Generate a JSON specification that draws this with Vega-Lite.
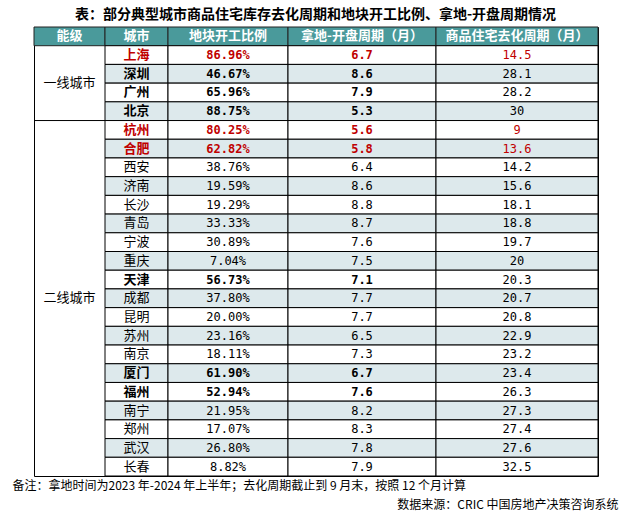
{
  "$schema": "https://vega.github.io/schema/vega-lite/v6.json",
  "background": "white",
  "padding": {"left": 12, "top": 8, "right": 5, "bottom": 5},
  "bounds": "flush",
  "spacing": 0,
  "title": {"text": "表：部分典型城市商品住宅库存去化周期和地块开工比例、拿地-开盘周期情况", "fontSize": 14, "fontWeight": "bold", "font": "Noto Sans CJK SC", "anchor": "middle", "offset": 4, "color": "#000000"},
  "datasets": {
    "headers": [
      {"row": 0, "col": "能级"},
      {"row": 0, "col": "城市"},
      {"row": 0, "col": "地块开工比例"},
      {"row": 0, "col": "拿地-开盘周期（月）"},
      {"row": 0, "col": "商品住宅去化周期（月）"}
    ],
    "cities": [
      {"row": 1, "tier": "一线城市", "city": "上海", "ratio": "86.96%", "period": "6.7", "destock": "14.5", "emphasis": "key"},
      {"row": 2, "tier": "一线城市", "city": "深圳", "ratio": "46.67%", "period": "8.6", "destock": "28.1", "emphasis": "notable"},
      {"row": 3, "tier": "一线城市", "city": "广州", "ratio": "65.96%", "period": "7.9", "destock": "28.2", "emphasis": "notable"},
      {"row": 4, "tier": "一线城市", "city": "北京", "ratio": "88.75%", "period": "5.3", "destock": "30", "emphasis": "notable"},
      {"row": 5, "tier": "二线城市", "city": "杭州", "ratio": "80.25%", "period": "5.6", "destock": "9", "emphasis": "key"},
      {"row": 6, "tier": "二线城市", "city": "合肥", "ratio": "62.82%", "period": "5.8", "destock": "13.6", "emphasis": "key"},
      {"row": 7, "tier": "二线城市", "city": "西安", "ratio": "38.76%", "period": "6.4", "destock": "14.2", "emphasis": "regular"},
      {"row": 8, "tier": "二线城市", "city": "济南", "ratio": "19.59%", "period": "8.6", "destock": "15.6", "emphasis": "regular"},
      {"row": 9, "tier": "二线城市", "city": "长沙", "ratio": "19.29%", "period": "8.8", "destock": "18.1", "emphasis": "regular"},
      {"row": 10, "tier": "二线城市", "city": "青岛", "ratio": "33.33%", "period": "8.7", "destock": "18.8", "emphasis": "regular"},
      {"row": 11, "tier": "二线城市", "city": "宁波", "ratio": "30.89%", "period": "7.6", "destock": "19.7", "emphasis": "regular"},
      {"row": 12, "tier": "二线城市", "city": "重庆", "ratio": "7.04%", "period": "7.5", "destock": "20", "emphasis": "regular"},
      {"row": 13, "tier": "二线城市", "city": "天津", "ratio": "56.73%", "period": "7.1", "destock": "20.3", "emphasis": "notable"},
      {"row": 14, "tier": "二线城市", "city": "成都", "ratio": "37.80%", "period": "7.7", "destock": "20.7", "emphasis": "regular"},
      {"row": 15, "tier": "二线城市", "city": "昆明", "ratio": "20.00%", "period": "7.7", "destock": "20.8", "emphasis": "regular"},
      {"row": 16, "tier": "二线城市", "city": "苏州", "ratio": "23.16%", "period": "6.5", "destock": "22.9", "emphasis": "regular"},
      {"row": 17, "tier": "二线城市", "city": "南京", "ratio": "18.11%", "period": "7.3", "destock": "23.2", "emphasis": "regular"},
      {"row": 18, "tier": "二线城市", "city": "厦门", "ratio": "61.90%", "period": "6.7", "destock": "23.4", "emphasis": "notable"},
      {"row": 19, "tier": "二线城市", "city": "福州", "ratio": "52.94%", "period": "7.6", "destock": "26.3", "emphasis": "notable"},
      {"row": 20, "tier": "二线城市", "city": "南宁", "ratio": "21.95%", "period": "8.2", "destock": "27.3", "emphasis": "regular"},
      {"row": 21, "tier": "二线城市", "city": "郑州", "ratio": "17.07%", "period": "8.3", "destock": "27.4", "emphasis": "regular"},
      {"row": 22, "tier": "二线城市", "city": "武汉", "ratio": "26.80%", "period": "7.8", "destock": "27.6", "emphasis": "regular"},
      {"row": 23, "tier": "二线城市", "city": "长春", "ratio": "8.82%", "period": "7.9", "destock": "32.5", "emphasis": "regular"}
    ]
  },
  "hconcat": [
    {
      "width": 71, "height": 449,
      "title": {"text": "备注：拿地时间为2023 年-2024 年上半年；去化周期截止到 9 月末，按照 12 个月计算", "orient": "bottom", "anchor": "start", "dx": -21, "offset": 5, "fontSize": 12, "fontWeight": "normal", "font": "Noto Sans CJK SC", "color": "#000000"},
      "resolve": {"scale": {"y": "independent"}},
      "layer": [
        {"data": {"name": "headers"}, "transform": [{"filter": "datum.col == '能级'"}], "mark": {"type": "rect", "fill": "#4a9a9b", "stroke": "#222222", "strokeWidth": 1},
         "encoding": {"y": {"field": "row", "type": "ordinal", "scale": {"domain": [0,1,2,3,4,5,6,7,8,9,10,11,12,13,14,15,16,17,18,19,20,21,22,23], "paddingInner": 0, "paddingOuter": 0}, "axis": null}}},
        {"data": {"name": "headers"}, "transform": [{"filter": "datum.col == '能级'"}], "mark": {"type": "text", "color": "#ffffff", "fontWeight": "bold", "fontSize": 13, "font": "Noto Sans CJK SC"},
         "encoding": {"y": {"field": "row", "type": "ordinal", "scale": {"domain": [0,1,2,3,4,5,6,7,8,9,10,11,12,13,14,15,16,17,18,19,20,21,22,23], "paddingInner": 0, "paddingOuter": 0}, "axis": null}, "text": {"field": "col"}}},
        {"data": {"name": "cities"}, "transform": [{"filter": "datum.tier == '二线城市'"}, {"aggregate": [{"op": "min", "field": "row", "as": "row"}], "groupby": ["tier"]}], "mark": {"type": "rule", "color": "#000000", "strokeWidth": 1},
         "encoding": {"y": {"field": "row", "type": "ordinal", "bandPosition": 0, "scale": {"domain": [0,1,2,3,4,5,6,7,8,9,10,11,12,13,14,15,16,17,18,19,20,21,22,23], "paddingInner": 0, "paddingOuter": 0}, "axis": null}}},
        {"data": {"name": "cities"}, "mark": {"type": "text", "color": "#000000", "fontSize": 13, "font": "Noto Sans CJK SC"},
         "encoding": {"y": {"aggregate": "mean", "field": "row", "type": "quantitative", "scale": {"domain": [-0.5, 23.5], "reverse": true, "nice": false, "zero": false}, "axis": null}, "text": {"field": "tier"}}}
      ]
    },
    {
      "width": 63, "height": 449,
      "layer": [
        {"data": {"name": "headers"}, "transform": [{"filter": "datum.col == '城市'"}], "mark": {"type": "rect", "fill": "#4a9a9b", "stroke": "#222222", "strokeWidth": 1},
         "encoding": {"y": {"field": "row", "type": "ordinal", "scale": {"domain": [0,1,2,3,4,5,6,7,8,9,10,11,12,13,14,15,16,17,18,19,20,21,22,23], "paddingInner": 0, "paddingOuter": 0}, "axis": null}}},
        {"data": {"name": "headers"}, "transform": [{"filter": "datum.col == '城市'"}], "mark": {"type": "text", "color": "#ffffff", "fontWeight": "bold", "fontSize": 13, "font": "Noto Sans CJK SC"},
         "encoding": {"y": {"field": "row", "type": "ordinal", "axis": null}, "text": {"field": "col"}}},
        {"data": {"name": "cities"}, "mark": {"type": "rect", "stroke": "#000000", "strokeWidth": 1},
         "encoding": {"y": {"field": "row", "type": "ordinal", "axis": null}, "fill": {"condition": {"test": "datum.row % 2 == 0", "value": "#dde9ec"}, "value": "#ffffff"}}},
        {"data": {"name": "cities"}, "transform": [{"filter": "datum.emphasis == 'regular'"}], "mark": {"type": "text", "fontSize": 13, "font": "Noto Sans CJK SC", "fontWeight": "normal"},
         "encoding": {"y": {"field": "row", "type": "ordinal", "axis": null}, "text": {"field": "city"}, "color": {"field": "emphasis", "type": "nominal", "scale": {"domain": ["key", "notable", "regular"], "range": ["#c00000", "#000000", "#000000"]}, "legend": null}}},
        {"data": {"name": "cities"}, "transform": [{"filter": "datum.emphasis != 'regular'"}], "mark": {"type": "text", "fontSize": 13, "font": "Noto Sans CJK SC", "fontWeight": "bold"},
         "encoding": {"y": {"field": "row", "type": "ordinal", "axis": null}, "text": {"field": "city"}, "color": {"field": "emphasis", "type": "nominal", "scale": {"domain": ["key", "notable", "regular"], "range": ["#c00000", "#000000", "#000000"]}, "legend": null}}}
      ]
    },
    {
      "width": 120, "height": 449,
      "layer": [
        {"data": {"name": "headers"}, "transform": [{"filter": "datum.col == '地块开工比例'"}], "mark": {"type": "rect", "fill": "#4a9a9b", "stroke": "#222222", "strokeWidth": 1},
         "encoding": {"y": {"field": "row", "type": "ordinal", "scale": {"domain": [0,1,2,3,4,5,6,7,8,9,10,11,12,13,14,15,16,17,18,19,20,21,22,23], "paddingInner": 0, "paddingOuter": 0}, "axis": null}}},
        {"data": {"name": "headers"}, "transform": [{"filter": "datum.col == '地块开工比例'"}], "mark": {"type": "text", "color": "#ffffff", "fontWeight": "bold", "fontSize": 13, "font": "Noto Sans CJK SC"},
         "encoding": {"y": {"field": "row", "type": "ordinal", "axis": null}, "text": {"field": "col"}}},
        {"data": {"name": "cities"}, "mark": {"type": "rect", "stroke": "#000000", "strokeWidth": 1},
         "encoding": {"y": {"field": "row", "type": "ordinal", "axis": null}, "fill": {"condition": {"test": "datum.row % 2 == 0", "value": "#dde9ec"}, "value": "#ffffff"}}},
        {"data": {"name": "cities"}, "transform": [{"filter": "datum.emphasis == 'regular'"}], "mark": {"type": "text", "fontSize": 12, "font": "DejaVu Sans Mono", "fontWeight": "normal"},
         "encoding": {"y": {"field": "row", "type": "ordinal", "axis": null}, "text": {"field": "ratio"}, "color": {"field": "emphasis", "type": "nominal", "scale": {"domain": ["key", "notable", "regular"], "range": ["#c00000", "#000000", "#000000"]}, "legend": null}}},
        {"data": {"name": "cities"}, "transform": [{"filter": "datum.emphasis != 'regular'"}], "mark": {"type": "text", "fontSize": 12, "font": "DejaVu Sans Mono", "fontWeight": "bold"},
         "encoding": {"y": {"field": "row", "type": "ordinal", "axis": null}, "text": {"field": "ratio"}, "color": {"field": "emphasis", "type": "nominal", "scale": {"domain": ["key", "notable", "regular"], "range": ["#c00000", "#000000", "#000000"]}, "legend": null}}}
      ]
    },
    {
      "width": 148, "height": 449,
      "layer": [
        {"data": {"name": "headers"}, "transform": [{"filter": "datum.col == '拿地-开盘周期（月）'"}], "mark": {"type": "rect", "fill": "#4a9a9b", "stroke": "#222222", "strokeWidth": 1},
         "encoding": {"y": {"field": "row", "type": "ordinal", "scale": {"domain": [0,1,2,3,4,5,6,7,8,9,10,11,12,13,14,15,16,17,18,19,20,21,22,23], "paddingInner": 0, "paddingOuter": 0}, "axis": null}}},
        {"data": {"name": "headers"}, "transform": [{"filter": "datum.col == '拿地-开盘周期（月）'"}], "mark": {"type": "text", "color": "#ffffff", "fontWeight": "bold", "fontSize": 13, "font": "Noto Sans CJK SC"},
         "encoding": {"y": {"field": "row", "type": "ordinal", "axis": null}, "text": {"field": "col"}}},
        {"data": {"name": "cities"}, "mark": {"type": "rect", "stroke": "#000000", "strokeWidth": 1},
         "encoding": {"y": {"field": "row", "type": "ordinal", "axis": null}, "fill": {"condition": {"test": "datum.row % 2 == 0", "value": "#dde9ec"}, "value": "#ffffff"}}},
        {"data": {"name": "cities"}, "transform": [{"filter": "datum.emphasis == 'regular'"}], "mark": {"type": "text", "fontSize": 12, "font": "DejaVu Sans Mono", "fontWeight": "normal"},
         "encoding": {"y": {"field": "row", "type": "ordinal", "axis": null}, "text": {"field": "period"}, "color": {"field": "emphasis", "type": "nominal", "scale": {"domain": ["key", "notable", "regular"], "range": ["#c00000", "#000000", "#000000"]}, "legend": null}}},
        {"data": {"name": "cities"}, "transform": [{"filter": "datum.emphasis != 'regular'"}], "mark": {"type": "text", "fontSize": 12, "font": "DejaVu Sans Mono", "fontWeight": "bold"},
         "encoding": {"y": {"field": "row", "type": "ordinal", "axis": null}, "text": {"field": "period"}, "color": {"field": "emphasis", "type": "nominal", "scale": {"domain": ["key", "notable", "regular"], "range": ["#c00000", "#000000", "#000000"]}, "legend": null}}}
      ]
    },
    {
      "width": 162, "height": 449,
      "title": {"text": "数据来源：CRIC 中国房地产决策咨询系统", "orient": "bottom", "anchor": "end", "dx": 20, "offset": 23, "fontSize": 12, "fontWeight": "normal", "font": "Noto Sans CJK SC", "color": "#000000"},
      "layer": [
        {"data": {"name": "headers"}, "transform": [{"filter": "datum.col == '商品住宅去化周期（月）'"}], "mark": {"type": "rect", "fill": "#4a9a9b", "stroke": "#222222", "strokeWidth": 1},
         "encoding": {"y": {"field": "row", "type": "ordinal", "scale": {"domain": [0,1,2,3,4,5,6,7,8,9,10,11,12,13,14,15,16,17,18,19,20,21,22,23], "paddingInner": 0, "paddingOuter": 0}, "axis": null}}},
        {"data": {"name": "headers"}, "transform": [{"filter": "datum.col == '商品住宅去化周期（月）'"}], "mark": {"type": "text", "color": "#ffffff", "fontWeight": "bold", "fontSize": 13, "font": "Noto Sans CJK SC"},
         "encoding": {"y": {"field": "row", "type": "ordinal", "axis": null}, "text": {"field": "col"}}},
        {"data": {"name": "cities"}, "mark": {"type": "rect", "stroke": "#000000", "strokeWidth": 1},
         "encoding": {"y": {"field": "row", "type": "ordinal", "axis": null}, "fill": {"condition": {"test": "datum.row % 2 == 0", "value": "#dde9ec"}, "value": "#ffffff"}}},
        {"data": {"name": "cities"}, "mark": {"type": "text", "fontSize": 12, "font": "DejaVu Sans Mono", "fontWeight": "normal"},
         "encoding": {"y": {"field": "row", "type": "ordinal", "axis": null}, "text": {"field": "destock"}, "color": {"field": "emphasis", "type": "nominal", "scale": {"domain": ["key", "notable", "regular"], "range": ["#c00000", "#000000", "#000000"]}, "legend": null}}}
      ]
    }
  ],
  "config": {
    "view": {"stroke": "#000000", "strokeWidth": 1},
    "font": "Noto Sans CJK SC"
  }
}
